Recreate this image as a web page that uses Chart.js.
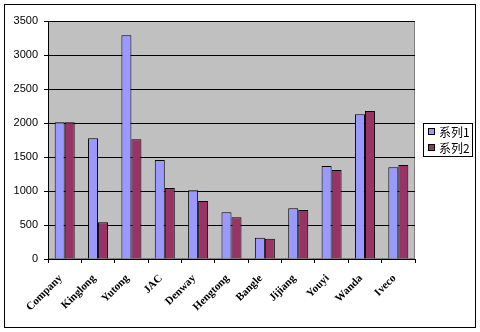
<!DOCTYPE html>
<html>
<head>
<meta charset="utf-8">
<script src="https://cdn.jsdelivr.net/npm/chart.js@4"></script>
<style>
html,body{margin:0;padding:0;background:#fff;}
#wrap{position:relative;width:480px;height:332px;}
</style>
</head>
<body>
<div id="wrap"><canvas id="c" width="480" height="332"></canvas></div>
<script>
const categories = ["Company","Kinglong","Yutong","JAC","Denway","Hengtong","Bangle","Jijiang","Youyi","Wanda","Iveco"];
const series1 = [2010,1775,3290,1455,1010,687,313,745,1368,2128,1349];
const series2 = [2010,540,1760,1044,853,613,299,720,1309,2176,1382];
const seriesNames = ["系列1","系列2"];
const yTicks = [0,500,1000,1500,2000,2500,3000,3500];
const colors = ["#9999FF","#993366"];

const decor = {
  id:'decor',
  beforeDraw(chart){
    const {ctx, chartArea:a} = chart;
    ctx.save();
    ctx.fillStyle = '#C0C0C0';
    ctx.fillRect(a.left, a.top, a.right-a.left, a.bottom-a.top);
    ctx.strokeStyle = '#808080';
    ctx.lineWidth = 1;
    ctx.strokeRect(a.left+0.5, a.top+0.5, a.right-a.left-1, a.bottom-a.top-1);
    ctx.restore();
  },
  afterDraw(chart){
    const ctx = chart.ctx;
    ctx.save();
    ctx.strokeStyle = '#000';
    ctx.lineWidth = 1;
    ctx.strokeRect(4.5,4.5,471,323);
    // legend
    const lx = 423, ly = 123, lw = 49, lh = 33;
    ctx.fillStyle = '#fff';
    ctx.fillRect(lx+0.5, ly+0.5, lw, lh);
    ctx.strokeRect(lx+0.5, ly+0.5, lw, lh);
    ctx.font = '12px "Noto Sans CJK SC", sans-serif';
    ctx.textBaseline = 'middle';
    seriesNames.forEach((n,i)=>{
      const cy = ly + 9 + i*16;
      ctx.fillStyle = colors[i];
      ctx.fillRect(lx+5.5, cy-3.5, 6, 6);
      ctx.strokeStyle = '#000';
      ctx.strokeRect(lx+5.5, cy-3.5, 6, 6);
      ctx.fillStyle = '#000';
      ctx.fillText(n, lx+16, cy);
    });
    ctx.restore();
  }
};

new Chart(document.getElementById('c'), {
  type:'bar',
  data:{
    labels: categories,
    datasets:[
      {label:seriesNames[0], data:series1, backgroundColor:colors[0], borderColor:'#000', borderWidth:1, categoryPercentage:0.6, barPercentage:1.0},
      {label:seriesNames[1], data:series2, backgroundColor:colors[1], borderColor:'#000', borderWidth:1, categoryPercentage:0.6, barPercentage:1.0}
    ]
  },
  options:{
    responsive:false,
    animation:false,
    layout:{padding:{left:0,right:65,top:21,bottom:0}},
    plugins:{legend:{display:false}, tooltip:{enabled:false}},
    scales:{
      x:{
        afterFit(s){ s.height = 73; },
        grid:{drawOnChartArea:false, drawTicks:true, tickLength:4, color:'#000', offset:true},
        border:{color:'#000'},
        ticks:{maxRotation:45, minRotation:45, autoSkip:false, color:'#000', padding:9, labelOffset:-4,
          font:{family:'"Liberation Serif", serif', size:11, weight:'bold'}}
      },
      y:{
        min:0, max:3500,
        afterFit(s){ s.width = 48; },
        afterBuildTicks(s){ s.ticks = yTicks.map(v=>({value:v})); },
        grid:{color:'#000', tickLength:4, drawTicks:true},
        border:{color:'#000'},
        ticks:{color:'#000', padding:6, callback:(v)=>String(v), font:{family:'"Liberation Sans", Arial, sans-serif', size:11}}
      }
    }
  },
  plugins:[decor]
});
</script>
</body>
</html>
